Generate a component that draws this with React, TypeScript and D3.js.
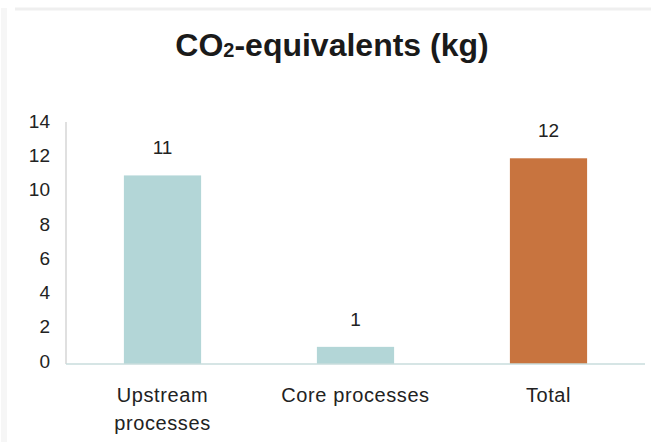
import React, { useEffect, useRef } from 'react';
import * as d3 from 'd3';

// Chart data
const categories: string[][] = [['Upstream', 'processes'], ['Core processes'], ['Total']];
const values: number[] = [11, 1, 12];
const valueLabels: string[] = ['11', '1', '12'];
const yTicks: number[] = [0, 2, 4, 6, 8, 10, 12, 14];

function App() {
  const ref = useRef<SVGSVGElement>(null);

  useEffect(() => {
    const svg = d3.select(ref.current);
    svg.selectAll('*').remove();

    const width = 651;
    const height = 442;
    const left = 66;
    const right = 645;
    const top = 124;
    const bottom = 364;
    const font = 'Liberation Sans, Arial, sans-serif';

    svg.append('rect').attr('width', width).attr('height', height).attr('fill', '#fff');

    // faint card edges
    svg.append('line')
      .attr('x1', 15).attr('x2', width)
      .attr('y1', 9).attr('y2', 9)
      .attr('stroke', '#efefef').attr('stroke-width', 3);
    svg.append('line')
      .attr('x1', 4).attr('x2', 4)
      .attr('y1', 8).attr('y2', height)
      .attr('stroke', '#f6f6f6').attr('stroke-width', 6);

    // Title with subscript 2
    const title = svg.append('text')
      .attr('x', 332).attr('y', 56)
      .attr('text-anchor', 'middle')
      .attr('font-family', font)
      .attr('font-weight', 'bold')
      .attr('font-size', 32)
      .attr('fill', '#1a1a1a');
    title.append('tspan').text('CO');
    title.append('tspan').attr('font-size', 20).attr('dy', 1).text('2');
    title.append('tspan').attr('dy', -1).text('-equivalents (kg)');

    const x = d3.scaleBand<number>()
      .domain(values.map((_, i) => i))
      .range([left, right])
      .paddingInner(0.6)
      .paddingOuter(0.3);

    const y = d3.scaleLinear().domain([0, 14]).range([bottom, top]);

    // Y axis line
    svg.append('line')
      .attr('x1', left).attr('x2', left)
      .attr('y1', y(14) - 2).attr('y2', y(0))
      .attr('stroke', '#d6d6d6').attr('stroke-width', 1.5);

    // Y tick labels
    svg.selectAll('.ytick')
      .data(yTicks)
      .enter().append('text')
      .attr('x', 50)
      .attr('y', d => y(d) - 3)
      .attr('dy', '0.35em')
      .attr('text-anchor', 'end')
      .attr('font-family', font)
      .attr('font-size', 19)
      .attr('fill', '#222')
      .text(d => d);

    // Bars
    svg.selectAll('.bar')
      .data(values)
      .enter().append('rect')
      .attr('x', (_, i) => x(i) as number)
      .attr('y', d => y(d))
      .attr('width', x.bandwidth())
      .attr('height', d => y(0) - y(d))
      .attr('fill', (_, i) => i === 2 ? '#c8743f' : '#b3d6d7');

    // Baseline
    svg.append('line')
      .attr('x1', left).attr('x2', right)
      .attr('y1', y(0)).attr('y2', y(0))
      .attr('stroke', '#c9dcdc').attr('stroke-width', 1.5);

    // Value labels
    svg.selectAll('.vlabel')
      .data(values)
      .enter().append('text')
      .attr('x', (_, i) => (x(i) as number) + x.bandwidth() / 2)
      .attr('y', d => y(d) - 21)
      .attr('text-anchor', 'middle')
      .attr('font-family', font)
      .attr('font-size', 19)
      .attr('fill', '#222')
      .text((_, i) => valueLabels[i]);

    // Category labels
    categories.forEach((lines, i) => {
      const t = svg.append('text')
        .attr('x', (x(i) as number) + x.bandwidth() / 2)
        .attr('y', 402)
        .attr('text-anchor', 'middle')
        .attr('font-family', font)
        .attr('font-size', 20)
        .attr('letter-spacing', 0.6)
        .attr('fill', '#222');
      lines.forEach((line, j) => {
        t.append('tspan')
          .attr('x', (x(i) as number) + x.bandwidth() / 2)
          .attr('dy', j === 0 ? 0 : 28)
          .text(line);
      });
    });
  }, []);

  return (
    <svg ref={ref} width={651} height={442}
      style={{ position: 'absolute', left: 0, top: 0, display: 'block' }} />
  );
}

export default App;
